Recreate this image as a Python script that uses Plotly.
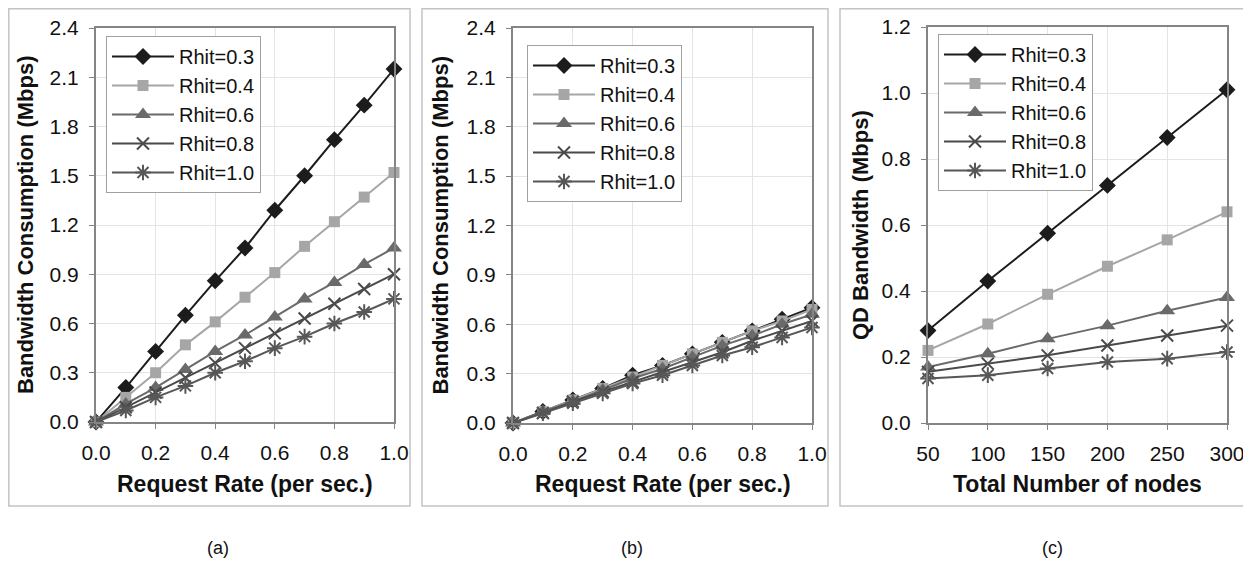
import plotly.graph_objects as go

# The page places the figure 8px from the top-left corner (default body margin),
# so the figure is sized to the visible area and positions are shifted by OFF.
OFF = 8
W, H = 1251 - OFF, 561 - OFF

rate = [0.0, 0.1, 0.2, 0.3, 0.4, 0.5, 0.6, 0.7, 0.8, 0.9, 1.0]
nodes = [50, 100, 150, 200, 250, 300]
series_names = ["Rhit=0.3", "Rhit=0.4", "Rhit=0.6", "Rhit=0.8", "Rhit=1.0"]

# Panel (a): bandwidth consumption vs request rate
a_r03 = [0.0, 0.21, 0.43, 0.65, 0.86, 1.06, 1.29, 1.50, 1.72, 1.93, 2.15]
a_r04 = [0.0, 0.15, 0.30, 0.47, 0.61, 0.76, 0.91, 1.07, 1.22, 1.37, 1.52]
a_r06 = [0.0, 0.11, 0.21, 0.32, 0.43, 0.53, 0.64, 0.75, 0.85, 0.96, 1.06]
a_r08 = [0.0, 0.09, 0.18, 0.27, 0.36, 0.45, 0.54, 0.63, 0.72, 0.81, 0.90]
a_r10 = [0.0, 0.07, 0.15, 0.22, 0.30, 0.37, 0.45, 0.52, 0.60, 0.67, 0.75]

# Panel (b)
b_r03 = [0.0, 0.07, 0.14, 0.21, 0.29, 0.35, 0.42, 0.49, 0.56, 0.63, 0.70]
b_r04 = [0.0, 0.07, 0.14, 0.21, 0.28, 0.35, 0.42, 0.49, 0.56, 0.62, 0.69]
b_r06 = [0.0, 0.07, 0.13, 0.20, 0.27, 0.33, 0.40, 0.47, 0.53, 0.60, 0.66]
b_r08 = [0.0, 0.06, 0.13, 0.19, 0.25, 0.31, 0.37, 0.43, 0.50, 0.56, 0.62]
b_r10 = [0.0, 0.06, 0.12, 0.18, 0.24, 0.29, 0.35, 0.41, 0.46, 0.52, 0.58]

# Panel (c): QD bandwidth vs total number of nodes
c_r03 = [0.28, 0.43, 0.575, 0.72, 0.865, 1.01]
c_r04 = [0.22, 0.30, 0.39, 0.475, 0.555, 0.64]
c_r06 = [0.17, 0.21, 0.255, 0.295, 0.34, 0.38]
c_r08 = [0.155, 0.18, 0.205, 0.235, 0.265, 0.295]
c_r10 = [0.135, 0.145, 0.165, 0.185, 0.195, 0.215]

colors = ["#1c1c1c", "#a6a6a6", "#6a6a6a", "#4a4a4a", "#575757"]
symbols = ["diamond", "square", "triangle-up", "x-thin-open", "asterisk-open"]
sizes = [13, 11, 14, 12, 13]

FONT = "Liberation Sans, Arial, sans-serif"

fig = go.Figure()

panels = [
    ("x", "y", "legend", rate, [a_r03, a_r04, a_r06, a_r08, a_r10]),
    ("x2", "y2", "legend2", rate, [b_r03, b_r04, b_r06, b_r08, b_r10]),
    ("x3", "y3", "legend3", nodes, [c_r03, c_r04, c_r06, c_r08, c_r10]),
]

for xa, ya, lg, xs, ys_list in panels:
    for i, ys in enumerate(ys_list):
        mk = dict(symbol=symbols[i], size=sizes[i], color=colors[i])
        if symbols[i].endswith("open"):
            mk["line"] = dict(width=2, color=colors[i])
        else:
            mk["line"] = dict(width=0)
        fig.add_trace(go.Scatter(
            x=xs, y=ys, mode="lines+markers", name=series_names[i],
            line=dict(color=colors[i], width=2), marker=mk,
            xaxis=xa, yaxis=ya, legend=lg, cliponaxis=False,
        ))

def px_x(p):
    return (p - OFF) / W

def px_y(p):
    return 1 - (p - OFF) / H

plot_boxes = [
    (96, 394, 28, 422),
    (513, 812, 28, 423),
    (928, 1227, 27, 423),
]

axis_common = dict(
    showline=True, mirror=True, linecolor="#858585", linewidth=2,
    showgrid=True, gridcolor="#e4e4e4", gridwidth=1,
    ticks="outside", ticklen=5, tickcolor="#858585", tickwidth=1,
    tickfont=dict(family=FONT, size=21, color="#111111"),
    zeroline=False, automargin=False,
)

layout = dict(
    width=W, height=H,
    margin=dict(l=0, r=0, t=0, b=0, pad=0, autoexpand=False),
    paper_bgcolor="white", plot_bgcolor="white",
    font=dict(family=FONT, color="#111111"),
)

for k, (l, r, t, b) in enumerate(plot_boxes):
    sfx = "" if k == 0 else str(k + 1)
    xd = [px_x(l), px_x(r)]
    yd = [px_y(b), px_y(t)]
    if k < 2:
        xr, xdt, xfmt = [0, 1], 0.2, ".1f"
        yr, ydt, yfmt = [0, 2.4], 0.3, ".1f"
    else:
        xr, xdt, xfmt = [50, 300], 50, "d"
        yr, ydt, yfmt = [0, 1.2], 0.2, ".1f"
    layout["xaxis" + sfx] = dict(axis_common, domain=xd, range=xr, dtick=xdt,
                                 tick0=xr[0], tickformat=xfmt,
                                 anchor="y" + sfx, ticklabelstandoff=6)
    layout["yaxis" + sfx] = dict(axis_common, domain=yd, range=yr, dtick=ydt,
                                 tick0=0, tickformat=yfmt,
                                 anchor="x" + sfx, ticklabelstandoff=6)

legend_pos = [(106, 36), (527, 45), (938, 34)]
for k, (lx, ly) in enumerate(legend_pos):
    key = "legend" if k == 0 else "legend" + str(k + 1)
    layout[key] = dict(
        x=px_x(lx), y=px_y(ly), xanchor="left", yanchor="top",
        xref="paper", yref="paper",
        bgcolor="white", bordercolor="#a0a0a0", borderwidth=1,
        font=dict(family=FONT, size=20, color="#111111"),
        itemwidth=62, tracegroupgap=0,
    )

fig.update_layout(**layout)

# outer frames of panels
frames = [(8.8, 410, 8.8, 506), (422, 828, 8.8, 506), (840, 1247, 8.8, 506)]
for (l, r, t, b) in frames:
    fig.add_shape(type="rect", xref="paper", yref="paper",
                  x0=px_x(l), x1=px_x(r), y0=px_y(b), y1=px_y(t),
                  line=dict(color="#c4c4c4", width=1.5), layer="below")

xtitles = ["Request Rate (per sec.)", "Request Rate (per sec.)", "Total Number of nodes"]
ytitles = ["Bandwidth Consumption (Mbps)", "Bandwidth Consumption (Mbps)", "QD Bandwidth (Mbps)"]
ytitle_x = [25, 440, 860]
panel_labels = ["(a)", "(b)", "(c)"]
panel_label_x = [218, 632, 1052]

for k, (l, r, t, b) in enumerate(plot_boxes):
    fig.add_annotation(text="<b>" + xtitles[k] + "</b>", xref="paper", yref="paper",
                       x=px_x((l + r) / 2), y=px_y(484), xanchor="center", yanchor="middle",
                       showarrow=False, font=dict(family=FONT, size=23, color="#111111"))
    fig.add_annotation(text="<b>" + ytitles[k] + "</b>", xref="paper", yref="paper",
                       x=px_x(ytitle_x[k]), y=px_y((t + b) / 2), xanchor="center", yanchor="middle",
                       textangle=-90, showarrow=False,
                       font=dict(family=FONT, size=22, color="#111111"))
    fig.add_annotation(text=panel_labels[k], xref="paper", yref="paper",
                       x=px_x(panel_label_x[k]), y=px_y(548), xanchor="center", yanchor="middle",
                       showarrow=False, font=dict(family=FONT, size=18, color="#111111"))

fig.write_html("out.html")
